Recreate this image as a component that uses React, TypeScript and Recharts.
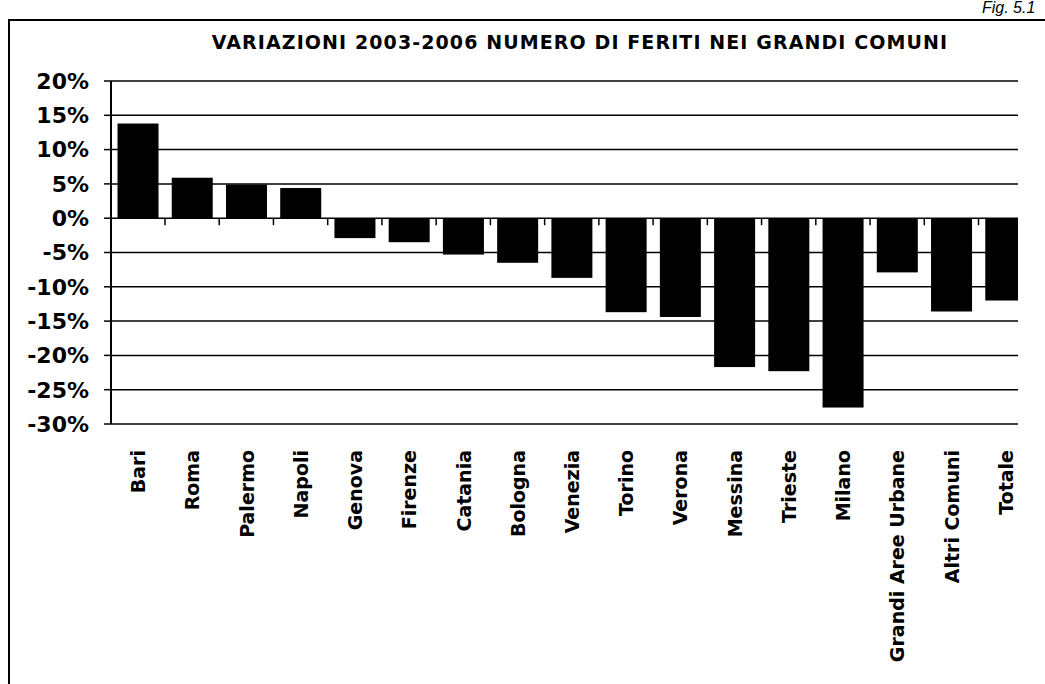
import { BarChart, Bar, XAxis, YAxis, CartesianGrid } from "recharts";

const comuni = [
  "Bari",
  "Roma",
  "Palermo",
  "Napoli",
  "Genova",
  "Firenze",
  "Catania",
  "Bologna",
  "Venezia",
  "Torino",
  "Verona",
  "Messina",
  "Trieste",
  "Milano",
  "Grandi Aree Urbane",
  "Altri Comuni",
  "Totale",
];

const variazioni = [
  13.8, 5.9, 4.9, 4.4, -2.9, -3.5, -5.3, -6.5, -8.7, -13.7, -14.4, -21.7, -22.3, -27.6, -7.9, -13.6,
  -12.0,
];

const yTicks = [-30, -25, -20, -15, -10, -5, 0, 5, 10, 15, 20];

const data = comuni.map((name, i) => ({ name, value: variazioni[i] }));

const FONT = "'DejaVu Sans', sans-serif";
const GAP = 0.12;

// bar plus the small category tick that sits on the zero line
const BarWithTick = (props: any) => {
  const { x, y, width, height, payload } = props;
  const top = Math.min(y, y + height);
  const h = Math.abs(height);
  const zeroY = payload.value >= 0 ? top + h : top;
  const band = width / (1 - 2 * GAP);
  const edge = x + width + (band - width) / 2;
  return (
    <g>
      <rect x={x} y={top} width={width} height={h} fill="#000" />
      <line x1={edge} x2={edge} y1={zeroY} y2={zeroY + 7} stroke="#000" strokeWidth={1.5} />
    </g>
  );
};

const CategoryTick = (props: any) => {
  const { x, y, payload } = props;
  return (
    <text
      x={x + 7}
      y={y + 18}
      transform={`rotate(-90, ${x + 7}, ${y + 18})`}
      textAnchor="end"
      fontFamily={FONT}
      fontWeight="bold"
      fontSize={19}
      fill="#000"
    >
      {payload.value}
    </text>
  );
};

export default function App() {
  return (
    <div
      style={{
        position: "absolute",
        left: 0,
        top: 0,
        width: 1045,
        height: 684,
        overflow: "hidden",
        background: "#fff",
      }}
    >
      <div
        style={{
          position: "absolute",
          left: 982,
          top: 0,
          fontFamily: "'Liberation Sans', sans-serif",
          fontStyle: "italic",
          fontSize: 16,
          lineHeight: "16px",
          whiteSpace: "nowrap",
        }}
      >
        Fig. 5.1
      </div>
      <div style={{ position: "absolute", left: 8, top: 19, width: 1037, height: 2, background: "#000" }} />
      <div style={{ position: "absolute", left: 8, top: 19, width: 2, height: 665, background: "#000" }} />
      <div
        style={{
          position: "absolute",
          left: 100,
          top: 33,
          width: 960,
          textAlign: "center",
          fontFamily: FONT,
          fontWeight: "bold",
          fontSize: 19,
          lineHeight: "19px",
          letterSpacing: 1.1,
          whiteSpace: "nowrap",
        }}
      >
        VARIAZIONI 2003-2006 NUMERO DI FERITI NEI GRANDI COMUNI
      </div>
      <div style={{ position: "absolute", left: 0, top: 0, width: 1018, height: 684, overflow: "hidden" }}>
        <BarChart
          width={1045}
          height={684}
          data={data}
          margin={{ top: 81, right: 12, left: 0, bottom: 0 }}
          barCategoryGap={`${GAP * 100}%`}
        >
          <CartesianGrid vertical={false} stroke="#000" strokeWidth={1.5} />
          <XAxis
            dataKey="name"
            height={260}
            axisLine={false}
            tickLine={false}
            interval={0}
            tick={<CategoryTick />}
          />
          <YAxis
            width={111}
            domain={[-30, 20]}
            ticks={yTicks}
            interval={0}
            tickFormatter={(v) => `${v}%`}
            axisLine={{ stroke: "#000", strokeWidth: 2 }}
            tickLine={{ stroke: "#000", strokeWidth: 1.5 }}
            tickSize={7}
            tickMargin={15}
            tick={{ fill: "#000", fontFamily: FONT, fontWeight: "bold", fontSize: 22 }}
          />
          <Bar dataKey="value" fill="#000" shape={<BarWithTick />} isAnimationActive={false} />
        </BarChart>
      </div>
    </div>
  );
}
